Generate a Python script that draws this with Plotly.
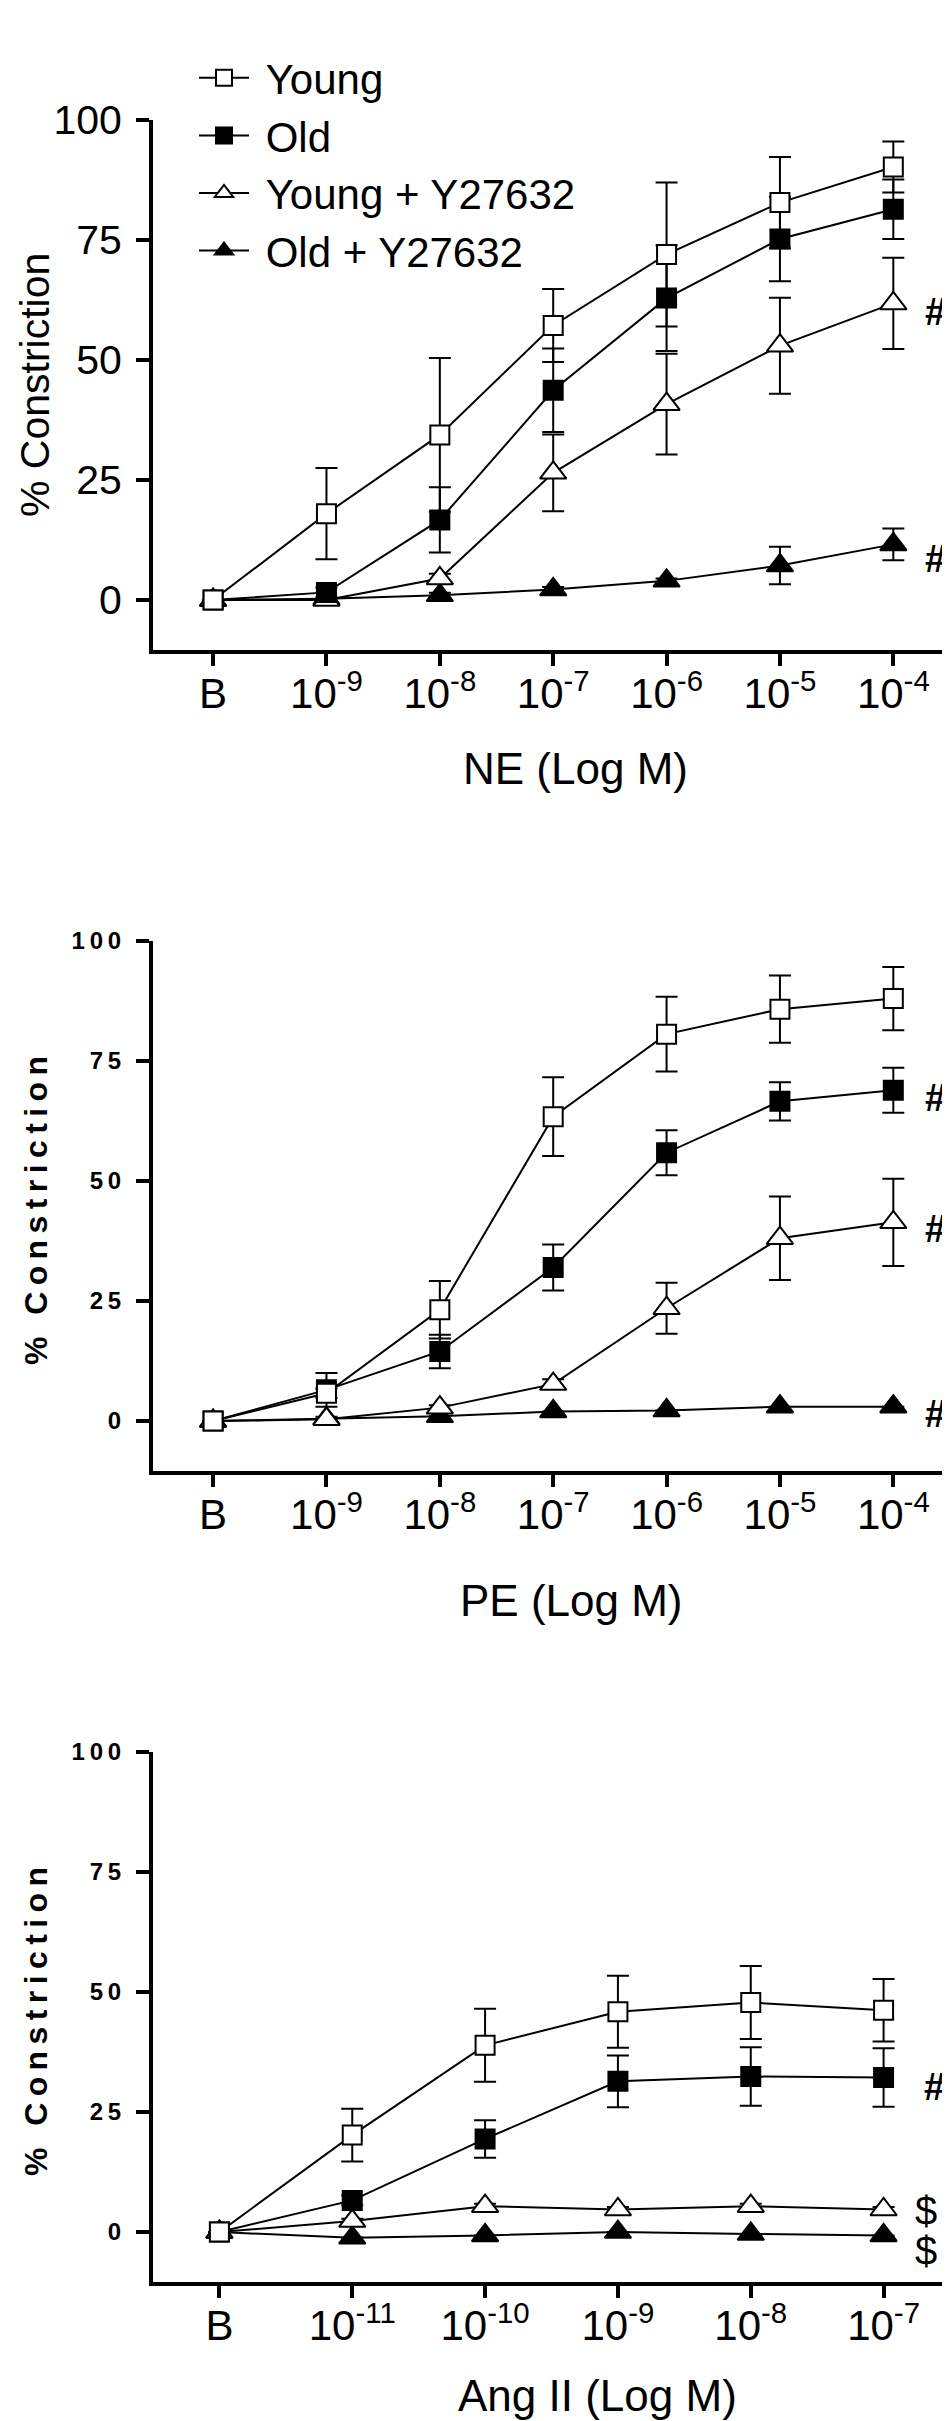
import plotly.graph_objects as go

W, H = 950, 2421

# --- data ---
ne_labels = ["B", "10<sup>-9</sup>", "10<sup>-8</sup>", "10<sup>-7</sup>",
             "10<sup>-6</sup>", "10<sup>-5</sup>", "10<sup>-4</sup>"]
ne_young = [0, 18, 34.4, 57.2, 72, 82.8, 90.2]
ne_young_err = [0, 9.5, 16, 7.6, 15, 9.5, 5.3]
ne_old = [0, 1.6, 16.7, 43.7, 62.9, 75.2, 81.4]
ne_old_err = [0, 1, 6.8, 8.7, 11, 8.8, 6.2]
ne_young_y = [0, 0, 4.5, 26.5, 40.8, 53, 61.8]
ne_young_y_err = [0, 0, 1, 8, 10.5, 10, 9.5]
ne_old_y = [0, 0.3, 1.0, 2.2, 4.0, 7.2, 11.6]
ne_old_y_err = [0, 0, 0.5, 0.5, 0.5, 3.9, 3.3]

pe_labels = ne_labels
pe_young = [0, 5.8, 23.2, 63.4, 80.6, 85.8, 88.0]
pe_young_err = [0, 1, 6, 8.2, 7.8, 7, 6.6]
pe_old = [0, 6.5, 14.5, 32, 55.9, 66.6, 68.9]
pe_old_err = [0, 3.5, 3.5, 4.8, 4.7, 4, 4.7]
pe_young_y = [0, 0.4, 2.8, 7.7, 23.5, 38.1, 41.4]
pe_young_y_err = [0, 0.5, 0.5, 1, 5.3, 8.7, 9.1]
pe_old_y = [0, 0.5, 1.0, 2.0, 2.2, 3.0, 3.0]
pe_old_y_err = [0, 0, 0, 0, 0, 0, 0]

ang_labels = ["B", "10<sup>-11</sup>", "10<sup>-10</sup>", "10<sup>-9</sup>",
              "10<sup>-8</sup>", "10<sup>-7</sup>"]
ang_young = [0, 20.2, 38.9, 45.9, 47.8, 46.2]
ang_young_err = [0, 5.5, 7.6, 7.5, 7.6, 6.5]
ang_old = [0, 6.6, 19.4, 31.4, 32.4, 32.2]
ang_old_err = [0, 1, 3.9, 5.4, 6.1, 6.1]
ang_young_y = [0, 2.3, 5.4, 4.7, 5.4, 4.7]
ang_young_y_err = [0, 0.5, 0.5, 0.5, 0.5, 0.5]
ang_old_y = [0, -1.2, -0.7, 0, -0.4, -0.7]
ang_old_y_err = [0, 0, 0, 0, 0, 0]

series_names = ["Young", "Old", "Young + Y27632", "Old + Y27632"]

FONT = "Arial, Liberation Sans, sans-serif"
NB = "\u00a0"   # pushes legend text away from the symbol
TS = "\u2009"   # thin space for the letter-spaced bold labels

styles = {
    "Young": dict(symbol="square", color="white", size=19),
    "Old": dict(symbol="square", color="black", size=19),
    "Young + Y27632": dict(symbol="triangle-up", color="white", size=23),
    "Old + Y27632": dict(symbol="triangle-up", color="black", size=23),
}
rank = {n: i for i, n in enumerate(series_names)}

panels = [
    dict(labels=ne_labels, data={
        "Young": (ne_young, ne_young_err), "Old": (ne_old, ne_old_err),
        "Young + Y27632": (ne_young_y, ne_young_y_err),
        "Old + Y27632": (ne_old_y, ne_old_y_err)},
        top=112, bottom=642, bold=False, title="NE (Log M)",
        title_xy=(567, 760), xpad=0.53),
    dict(labels=pe_labels, data={
        "Young": (pe_young, pe_young_err), "Old": (pe_old, pe_old_err),
        "Young + Y27632": (pe_young_y, pe_young_y_err),
        "Old + Y27632": (pe_old_y, pe_old_y_err)},
        top=933, bottom=1463, bold=True, title="PE (Log M)",
        title_xy=(563, 1592), xpad=0.53),
    dict(labels=ang_labels, data={
        "Young": (ang_young, ang_young_err), "Old": (ang_old, ang_old_err),
        "Young + Y27632": (ang_young_y, ang_young_y_err),
        "Old + Y27632": (ang_old_y, ang_old_y_err)},
        top=1744, bottom=2274, bold=True, title="Ang II (Log M)",
        title_xy=(589, 2387), xpad=0.5),
]

fig = go.Figure()
layout = {}
annotations = []
x0_px, x1_px = 145, 942

for i, p in enumerate(panels):
    k = "" if i == 0 else str(i + 1)
    xa, ya = "x" + k, "y" + k
    n = len(p["labels"])
    xs = list(range(n))
    # draw back-to-front so Young sits on top
    for name in ["Old + Y27632", "Young + Y27632", "Old", "Young"]:
        vals, errs = p["data"][name]
        st = styles[name]
        fig.add_trace(go.Scatter(
            x=xs, y=vals, mode="lines+markers", name=NB + name,
            xaxis=xa, yaxis=ya, showlegend=(i == 0), legendrank=rank[name],
            line=dict(color="black", width=2),
            marker=dict(symbol=st["symbol"], size=st["size"], color=st["color"],
                        line=dict(color="black", width=2)),
            error_y=dict(type="data", array=errs, visible=True,
                         color="black", thickness=2, width=11),
            cliponaxis=False,
        ))

    layout["xaxis" + k] = dict(
        domain=[x0_px / W, x1_px / W], anchor=ya,
        range=[-p["xpad"], n - 1 + 0.5],
        tickvals=xs, ticktext=p["labels"],
        ticks="outside", ticklen=12, tickwidth=4, tickcolor="black",
        showline=True, linewidth=4, linecolor="black",
        showgrid=False, zeroline=False, automargin=False,
        tickfont=dict(family=FONT, size=42, color="black"),
        ticklabelstandoff=-8,
    )
    if p["bold"]:
        ytext = ["0", TS.join("25"), TS.join("50"), TS.join("75"),
                 TS.join("100")]
        yfont = dict(family=FONT, size=24, color="black", weight="bold")
        standoff = 10
    else:
        ytext = ["0", "25", "50", "75", "100"]
        yfont = dict(family=FONT, size=41, color="black")
        standoff = 6
    layout["yaxis" + k] = dict(
        domain=[1 - p["bottom"] / H, 1 - p["top"] / H], anchor=xa,
        range=[-10.4, 100],
        tickvals=[0, 25, 50, 75, 100], ticktext=ytext,
        ticks="outside", ticklen=13, tickwidth=4, tickcolor="black",
        showline=True, linewidth=4, linecolor="black",
        showgrid=False, zeroline=False, automargin=False,
        tickfont=yfont, ticklabelstandoff=standoff,
    )

    # y axis title
    mid = 1 - (p["top"] + p["bottom"]) / 2 / H
    if p["bold"]:
        spaced = TS.join("Constriction")
        annotations.append(dict(
            text="%" + TS + "\u00a0" + TS + spaced, x=28 / W, y=mid - 5 / H,
            xref="paper", yref="paper", showarrow=False, textangle=-90,
            xanchor="center", yanchor="middle",
            font=dict(family=FONT, size=32, color="black", weight="bold")))
    else:
        annotations.append(dict(
            text="% Constriction", x=27 / W, y=mid,
            xref="paper", yref="paper", showarrow=False, textangle=-90,
            xanchor="center", yanchor="middle",
            font=dict(family=FONT, size=41, color="black")))
    # x axis title
    tx, ty = p["title_xy"]
    annotations.append(dict(
        text=p["title"], x=tx / W, y=1 - ty / H, xref="paper", yref="paper",
        showarrow=False, xanchor="center", yanchor="middle",
        font=dict(family=FONT, size=44, color="black")))

# significance marks
marks = [
    ("x", "y", 6.37, 60, "#", True),
    ("x", "y", 6.37, 8.5, "#", True),
    ("x2", "y2", 6.37, 67.4, "#", True),
    ("x2", "y2", 6.37, 40.1, "#", True),
    ("x2", "y2", 6.37, 1.5, "#", True),
    ("x3", "y3", 5.38, 30.2, "#", True),
    ("x3", "y3", 5.32, 4.4, "$", False),
    ("x3", "y3", 5.32, -4.0, "$", False),
]
for xr, yr, mx, my, t, b in marks:
    annotations.append(dict(
        text=t, x=mx, y=my, xref=xr, yref=yr, showarrow=False,
        xanchor="center", yanchor="middle",
        font=dict(family=FONT, size=38 if b else 40, color="black",
                  weight="bold" if b else "normal")))

fig.update_layout(
    width=W, height=H,
    margin=dict(l=0, r=0, t=0, b=0),
    paper_bgcolor="white", plot_bgcolor="white",
    showlegend=True,
    legend=dict(x=186 / W, y=1 - 36 / H, xanchor="left", yanchor="top",
                font=dict(family=FONT, size=42, color="black"),
                bgcolor="rgba(0,0,0,0)", itemwidth=50, tracegroupgap=0),
    annotations=annotations,
    **layout,
)

fig.write_html("out.html")
